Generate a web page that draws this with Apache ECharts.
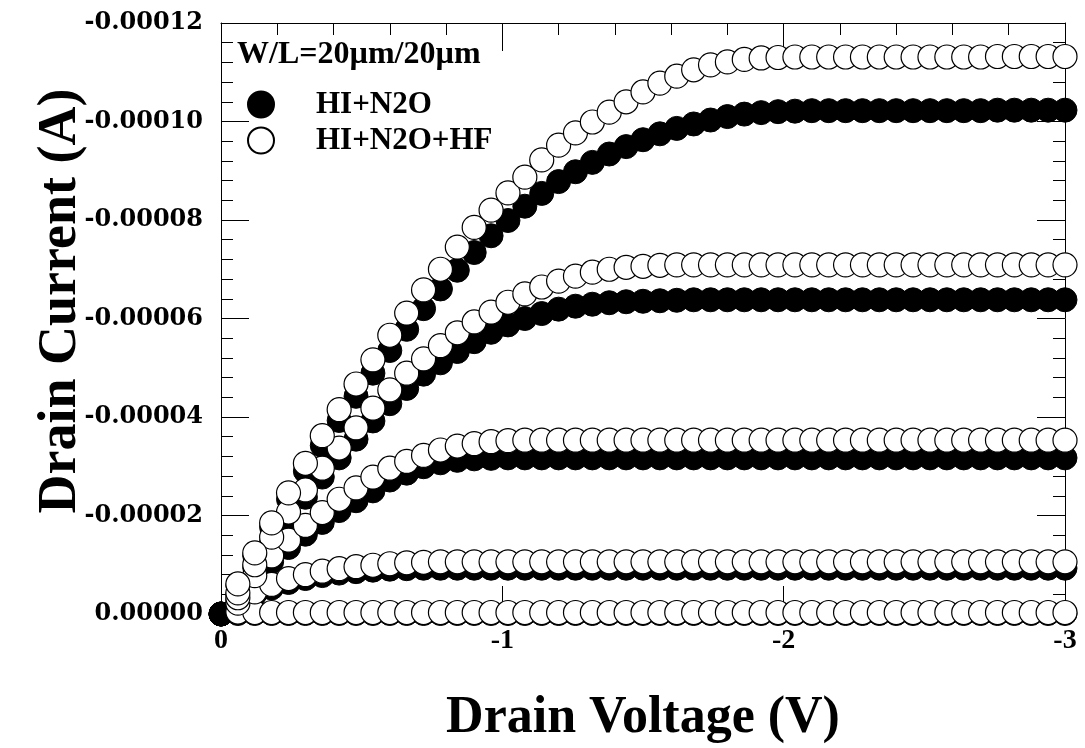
<!DOCTYPE html>
<html><head><meta charset="utf-8">
<script src="https://cdn.jsdelivr.net/npm/echarts@6/dist/echarts.min.js"></script>
<style>html,body{margin:0;padding:0;background:#fff}#c{width:1085px;height:748px}</style>
</head><body><div id="c"></div>
<script>
// Drain voltage (V)
const drainVoltage = [0,-0.06,-0.12,-0.18,-0.24,-0.3,-0.36,-0.42,-0.48,-0.54,
  -0.6,-0.66,-0.72,-0.78,-0.84,-0.9,-0.96,-1.02,-1.08,-1.14,
  -1.2,-1.26,-1.32,-1.38,-1.44,-1.5,-1.56,-1.62,-1.68,-1.74,
  -1.8,-1.86,-1.92,-1.98,-2.04,-2.1,-2.16,-2.22,-2.28,-2.34,
  -2.4,-2.46,-2.52,-2.58,-2.64,-2.7,-2.76,-2.82,-2.88,-2.94,-3];

// Drain current in units of 1e-5 A. HI+N2O (filled), curves 1 (highest Vg) .. 5
const hiN2O_1 = [0,-0.58,-1.18,-1.76,-2.33,-2.9,-3.42,-3.93,-4.42,-4.89,
  -5.35,-5.78,-6.2,-6.6,-6.98,-7.34,-7.68,-7.99,-8.28,-8.54,
  -8.78,-8.98,-9.17,-9.34,-9.49,-9.63,-9.75,-9.86,-9.95,-10.03,
  -10.1,-10.15,-10.18,-10.2,-10.21,-10.22,-10.22,-10.22,-10.22,-10.22,
  -10.22,-10.22,-10.22,-10.22,-10.22,-10.22,-10.23,-10.23,-10.23,-10.23,-10.23];
const hiN2O_2 = [0,-0.4,-0.94,-1.46,-1.94,-2.37,-2.78,-3.17,-3.55,-3.92,
  -4.27,-4.58,-4.87,-5.1,-5.33,-5.53,-5.72,-5.87,-6.0,-6.1,
  -6.19,-6.25,-6.29,-6.32,-6.34,-6.35,-6.36,-6.37,-6.38,-6.38,
  -6.38,-6.38,-6.38,-6.38,-6.38,-6.38,-6.38,-6.38,-6.38,-6.38,
  -6.38,-6.38,-6.38,-6.38,-6.38,-6.38,-6.38,-6.38,-6.38,-6.38,-6.38];
const hiN2O_3 = [0,-0.3,-0.7,-1.06,-1.35,-1.62,-1.86,-2.1,-2.3,-2.5,
  -2.72,-2.86,-2.99,-3.07,-3.12,-3.15,-3.16,-3.17,-3.17,-3.17,
  -3.17,-3.17,-3.17,-3.17,-3.17,-3.17,-3.17,-3.17,-3.17,-3.17,
  -3.17,-3.17,-3.17,-3.17,-3.17,-3.17,-3.17,-3.17,-3.17,-3.17,
  -3.17,-3.17,-3.17,-3.17,-3.17,-3.17,-3.17,-3.17,-3.17,-3.17,-3.17];
const hiN2O_4 = [0,-0.2,-0.4,-0.53,-0.64,-0.72,-0.78,-0.83,-0.86,-0.89,
  -0.91,-0.92,-0.93,-0.93,-0.93,-0.93,-0.93,-0.93,-0.93,-0.93,
  -0.93,-0.93,-0.93,-0.93,-0.93,-0.93,-0.93,-0.93,-0.93,-0.93,
  -0.93,-0.93,-0.93,-0.93,-0.93,-0.93,-0.93,-0.93,-0.93,-0.93,
  -0.93,-0.93,-0.93,-0.93,-0.93,-0.93,-0.93,-0.93,-0.93,-0.93,-0.93];
const hiN2O_5 = [0,-0.01,-0.01,-0.01,-0.01,-0.01,-0.01,-0.01,-0.01,-0.01,
  -0.01,-0.01,-0.01,-0.01,-0.01,-0.01,-0.01,-0.01,-0.01,-0.01,
  -0.01,-0.01,-0.01,-0.01,-0.01,-0.01,-0.01,-0.01,-0.01,-0.01,
  -0.01,-0.01,-0.01,-0.01,-0.01,-0.01,-0.01,-0.01,-0.01,-0.01,
  -0.01,-0.01,-0.01,-0.01,-0.01,-0.01,-0.01,-0.01,-0.01,-0.01,-0.01];

// HI+N2O+HF (open), curves 1 .. 5
const hiN2OHF_1 = [null,-0.61,-1.24,-1.85,-2.46,-3.06,-3.62,-4.15,-4.67,-5.16,
  -5.66,-6.11,-6.58,-7.0,-7.45,-7.85,-8.2,-8.55,-8.87,-9.22,
  -9.52,-9.77,-9.99,-10.19,-10.4,-10.6,-10.78,-10.92,-11.05,-11.15,
  -11.21,-11.26,-11.29,-11.3,-11.31,-11.31,-11.31,-11.31,-11.31,-11.31,
  -11.31,-11.31,-11.31,-11.31,-11.31,-11.31,-11.32,-11.32,-11.32,-11.32,-11.32];
const hiN2OHF_2 = [null,-0.43,-1.0,-1.56,-2.07,-2.52,-2.96,-3.37,-3.78,-4.18,
  -4.55,-4.89,-5.18,-5.45,-5.71,-5.93,-6.13,-6.33,-6.5,-6.64,
  -6.76,-6.86,-6.94,-7.0,-7.04,-7.06,-7.08,-7.09,-7.09,-7.09,
  -7.09,-7.09,-7.09,-7.09,-7.09,-7.09,-7.09,-7.09,-7.09,-7.09,
  -7.09,-7.09,-7.09,-7.09,-7.09,-7.09,-7.09,-7.09,-7.09,-7.09,-7.09];
const hiN2OHF_3 = [null,-0.33,-0.78,-1.18,-1.5,-1.8,-2.06,-2.33,-2.56,-2.78,
  -2.96,-3.1,-3.22,-3.33,-3.41,-3.46,-3.5,-3.52,-3.53,-3.53,
  -3.53,-3.53,-3.53,-3.53,-3.53,-3.53,-3.53,-3.53,-3.53,-3.53,
  -3.53,-3.53,-3.53,-3.53,-3.53,-3.53,-3.53,-3.53,-3.53,-3.53,
  -3.53,-3.53,-3.53,-3.53,-3.53,-3.53,-3.53,-3.53,-3.53,-3.53,-3.53];
const hiN2OHF_4 = [null,-0.22,-0.45,-0.6,-0.72,-0.8,-0.87,-0.92,-0.96,-0.99,
  -1.02,-1.04,-1.05,-1.06,-1.06,-1.06,-1.06,-1.06,-1.06,-1.06,
  -1.06,-1.06,-1.06,-1.06,-1.06,-1.06,-1.06,-1.06,-1.06,-1.06,
  -1.06,-1.06,-1.06,-1.06,-1.06,-1.06,-1.06,-1.06,-1.06,-1.06,
  -1.06,-1.06,-1.06,-1.06,-1.06,-1.06,-1.06,-1.06,-1.06,-1.06,-1.06];
const hiN2OHF_5 = [null,-0.04,-0.03,-0.03,-0.03,-0.03,-0.03,-0.03,-0.03,-0.03,
  -0.03,-0.03,-0.03,-0.03,-0.03,-0.03,-0.03,-0.03,-0.03,-0.03,
  -0.03,-0.03,-0.03,-0.03,-0.03,-0.03,-0.03,-0.03,-0.03,-0.03,
  -0.03,-0.03,-0.03,-0.03,-0.03,-0.03,-0.03,-0.03,-0.03,-0.03,
  -0.03,-0.03,-0.03,-0.03,-0.03,-0.03,-0.03,-0.03,-0.03,-0.03,-0.03];

const seriesNames = ['HI+N2O', 'HI+N2O+HF'];
const annotation = 'W/L=20\u00b5m/20\u00b5m';
const xTitle = 'Drain Voltage (V)';
const yTitle = 'Drain Current (A)';

function pts(ys) {
  const out = [];
  ys.forEach((y, i) => { if (y !== null) out.push([drainVoltage[i], y]); });
  return out;
}
const filledCurves = [hiN2O_5, hiN2O_4, hiN2O_3, hiN2O_2, hiN2O_1];
const openCurves = [hiN2OHF_5, hiN2OHF_4, hiN2OHF_3, hiN2OHF_2, hiN2OHF_1];
const series = [];
filledCurves.forEach(c => series.push({
  type: 'scatter', name: seriesNames[0], data: pts(c), symbol: 'circle', symbolSize: 24,
  clip: false, silent: true,
  itemStyle: { color: '#000', borderColor: '#000', borderWidth: 1, opacity: 1 }
}));
openCurves.forEach(c => series.push({
  type: 'scatter', name: seriesNames[1], data: pts(c), symbol: 'circle', symbolSize: 24,
  clip: false, silent: true,
  itemStyle: { color: '#fff', borderColor: '#000', borderWidth: 1.2, opacity: 1 }
}));

const serif = 'Liberation Serif, Times New Roman, serif';
const axisCommon = {
  axisLine: { show: true, onZero: false, lineStyle: { color: '#000', width: 1 } },
  axisTick: { show: true, inside: true, length: 28, lineStyle: { color: '#000', width: 1 } },
  minorTick: { show: true, splitNumber: 5, length: 12, lineStyle: { color: '#000', width: 1 } },
  splitLine: { show: false }, minorSplitLine: { show: false }
};

const chart = echarts.init(document.getElementById('c'), null, { renderer: 'canvas' });
chart.setOption({
  animation: false,
  backgroundColor: '#fff',
  grid: { left: 221, right: 20, top: 23, bottom: 134, containLabel: false, outerBoundsMode: 'none' },
  title: {
    text: annotation, left: 237, top: 39, padding: 0,
    textStyle: { fontFamily: serif, fontWeight: 'bold', fontSize: 32, color: '#000' }
  },
  legend: {
    data: seriesNames, orient: 'vertical', left: 247, top: 89, itemWidth: 26, itemHeight: 26,
    itemGap: 5, icon: 'circle', selectedMode: false, padding: 0,
    textStyle: { fontFamily: serif, fontWeight: 'bold', fontSize: 31, color: '#000', padding: [0, 0, 0, 37] }
  },
  xAxis: [
    Object.assign({}, axisCommon, {
      type: 'value', position: 'bottom', min: -3, max: 0, interval: 1, inverse: true,
      name: xTitle, nameLocation: 'middle', nameGap: 79,
      nameTextStyle: { fontFamily: serif, fontWeight: 'bold', fontSize: 52, color: '#000' },
      axisLabel: { margin: 13, fontFamily: serif, fontWeight: 'bold', fontSize: 28, color: '#000',
        formatter: v => (v === 0 ? '0' : String(v)) }
    }),
    Object.assign({}, axisCommon, {
      type: 'value', position: 'top', min: -3, max: 0, interval: 1, inverse: true,
      axisLabel: { show: false }
    })
  ],
  yAxis: [
    Object.assign({}, axisCommon, {
      type: 'value', position: 'left', min: -12, max: 0, interval: 2, inverse: true,
      axisLabel: { margin: 18, fontFamily: 'DejaVu Serif', fontWeight: 'bold', fontSize: 24, color: '#000',
        formatter: v => (v === 0 ? '0.00000' : (v / 1e5).toFixed(5)) }
    }),
    Object.assign({}, axisCommon, {
      type: 'value', position: 'right', min: -12, max: 0, interval: 2, inverse: true,
      axisLabel: { show: false }
    })
  ],
  graphic: [{
    type: 'text', x: 61, y: 301, rotation: Math.PI / 2, silent: true,
    style: { text: yTitle, fontFamily: serif, fontWeight: 'bold', fontSize: 54, fill: '#000',
      align: 'center', verticalAlign: 'middle' }
  }],
  series: series
});
</script></body></html>
